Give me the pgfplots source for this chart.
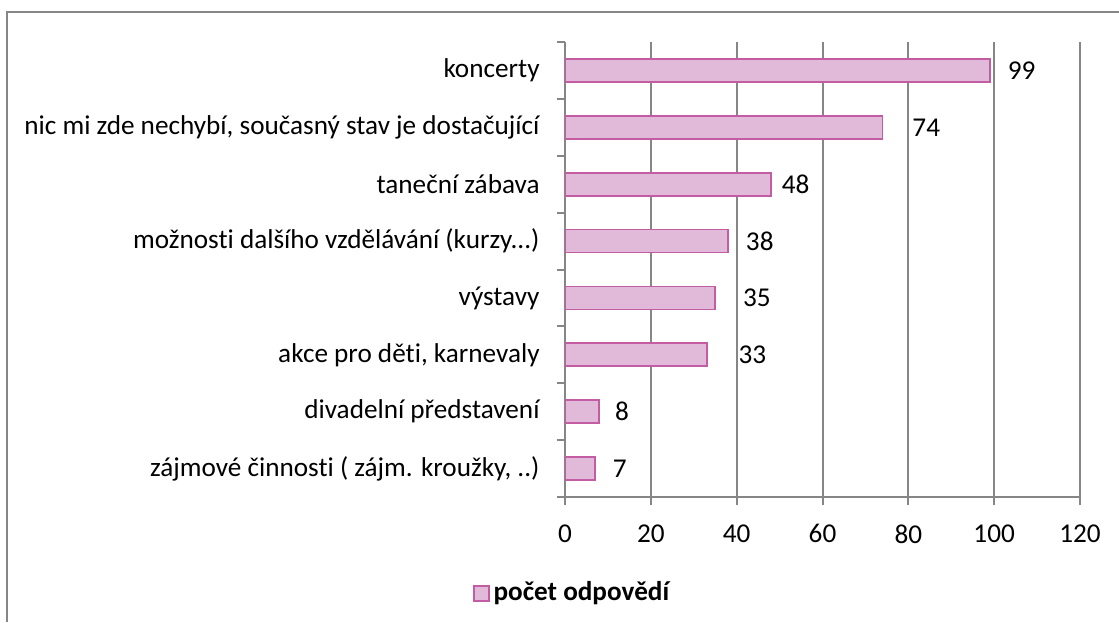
\documentclass[border=0pt]{standalone}
\usepackage{pgfplots}
\pgfplotsset{compat=1.18}
\usepackage{pgfplotstable}
\usepackage{fontspec}
\setmainfont[Ligatures={NoCommon}]{Carlito}
\definecolor{barfill}{RGB}{224,186,216}
\definecolor{barline}{RGB}{196,92,164}
\definecolor{gridgray}{RGB}{134,134,134}
\pgfplotstableread{
y val off
7 99 8.5
6 74 14.5
5 48 5
4 38 8.5
3 35 13.5
2 33 15.5
1 8 7.5
0 7 8.5
}\data
\begin{document}
\fontsize{13.6pt}{16pt}\selectfont
\begin{tikzpicture}
\path[use as bounding box] (0,0) rectangle (559.5pt,311pt);
\draw[gridgray, line width=1.2pt] (3.5pt,0) -- (3.5pt,305pt) -- (559.5pt,305pt);
\begin{axis}[
  scale only axis, width=257.5pt, height=227.5pt,
  at={(282.5pt,62.5pt)}, anchor=south west,
  xbar, bar width=11.5pt,
  xmin=0, xmax=120, ymin=-0.5, ymax=7.5,
  xtick={0,20,40,60,80,100,120},
  /pgf/number format/assume math mode=true,
  axis x line=bottom, axis y line=left,
  axis line style={-, gridgray, line width=1pt},
  xmajorgrids, major grid style={gridgray, line width=1pt},
  tick align=outside, major tick length=4pt,
  tick style={gridgray, line width=1pt},
  ytick={-0.5,0.5,1.5,2.5,3.5,4.5,5.5,6.5,7.5}, yticklabels={},
  extra y ticks={0,1,2,3,4,5,6,7},
  extra y tick labels={{zájmové činnosti ( zájm. kroužky, .{}.)},{divadelní představení},{akce pro děti, karnevaly},{výstavy},{možnosti dalšího vzdělávání (kurzy.{}.{}.)},{taneční zábava},{nic mi zde nechybí, současný stav je dostačující\ },{koncerty}},
  extra y tick style={major tick length=0pt, tick style={draw=none}, grid=none},
  yticklabel style={xshift=-8pt},
  xticklabel style={yshift=-5pt},
  legend style={at={(axis description cs:0.0155,-0.212)}, anchor=center, draw=none, fill=none, font=\bfseries},
  legend image code/.code={\draw[fill=barfill, draw=barline, line width=0.9pt] (0pt,-3.75pt) rectangle (7.5pt,3.75pt);},
  nodes near coords, point meta=x,
  visualization depends on={\thisrow{off} \as \off},
  nodes near coords style={anchor=west, inner sep=0pt, xshift=\off pt, /pgf/number format/assume math mode=true},
]
\addplot[fill=barfill, draw=barline, line width=0.9pt] table[x=val, y=y] {\data};
\legend{počet odpovědí}
\end{axis}
\end{tikzpicture}
\end{document}
